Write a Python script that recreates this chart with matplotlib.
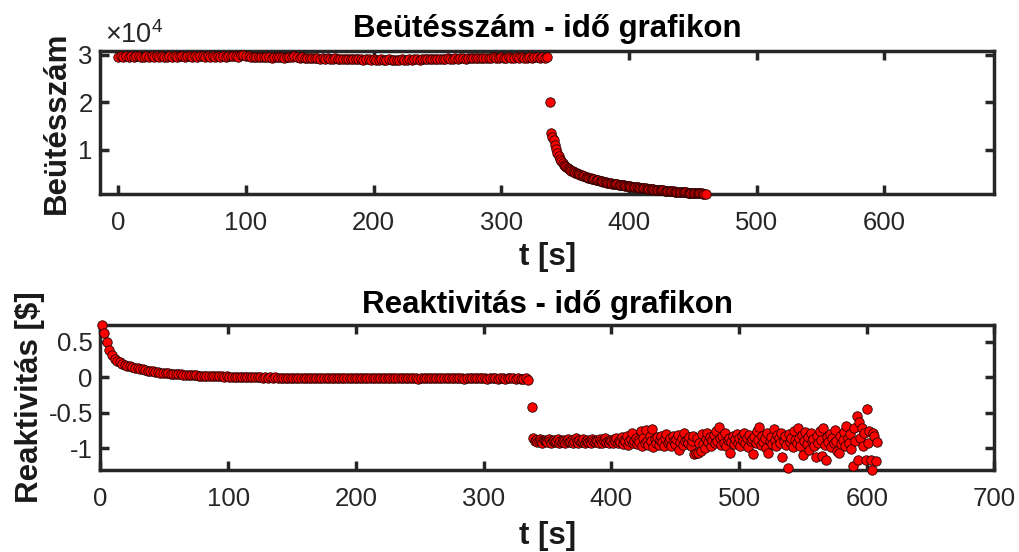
import numpy as np
import matplotlib
matplotlib.use("Agg")
import matplotlib.pyplot as plt
from matplotlib.ticker import FuncFormatter, FixedLocator

plt.rcParams['font.family'] = ['Liberation Sans', 'DejaVu Sans']
plt.rcParams['mathtext.fontset'] = 'custom'
plt.rcParams['mathtext.rm'] = 'Liberation Sans'
plt.rcParams['mathtext.it'] = 'Liberation Sans:italic'
plt.rcParams['mathtext.bf'] = 'Liberation Sans:bold'
plt.rcParams['axes.unicode_minus'] = False

# ---------------- data: counts (Beütésszám) ----------------
t_counts_flat = np.arange(0, 337, 2)          # 0 .. 336 s
counts_flat = [
    29650, 29720, 29580, 29700, 29640, 29760, 29610, 29690, 29730, 29600, 29680, 29750, 29620, 29700, 29660, 29740,
    29590, 29710, 29680, 29620, 29770, 29650, 29700, 29560, 29690, 29740, 29630, 29700, 29810, 29660, 29720, 29600,
    29690, 29750, 29640, 29700, 29620, 29780, 29680, 29730, 29650, 29710, 29600, 29690, 29840, 29720, 29760, 29680,
    29900, 30050, 29820, 29740, 29600, 29680, 29550, 29620, 29480, 29590, 29520, 29650, 29470, 29560, 29610, 29500,
    29580, 29450, 29530, 29620, 29480, 29700, 29550, 29420, 29500, 29380, 29470, 29350, 29430, 29300, 29380, 29260,
    29340, 29220, 29300, 29180, 29260, 29350, 29200, 29120, 29240, 29170, 29090, 29210, 29150, 29060, 29180, 29100,
    29020, 29140, 29080, 28980, 29100, 29030, 28950, 29070, 29000, 28920, 29060, 28980, 29040, 28940, 29020, 29090,
    28960, 29050, 29120, 29000, 29080, 29150, 29030, 29110, 29190, 29060, 29140, 29220, 29100, 29180, 29250, 29130,
    29210, 29290, 29160, 29250, 29330, 29200, 29280, 29360, 29230, 29310, 29400, 29270, 29350, 29420, 29300, 29380,
    29450, 29330, 29410, 29480, 29360, 29440, 29510, 29380, 29460, 29540, 29400, 29470, 29550, 29420, 29490, 29380,
    29460, 29530, 29410, 29480, 29560, 29440, 29500, 29420, 29480,
]
t_counts_jump = [338]
counts_jump = [20000]
t_counts_decay = np.arange(339, 461, 1)       # 339 .. 460 s
counts_decay = [
    13600, 12800, 12100, 11000, 10200, 9300, 8700, 8000, 7600, 7200, 6900, 6600, 6400, 6200, 6000, 5800,
    5650, 5500, 5350, 5200, 5080, 4950, 4850, 4750, 4640, 4550, 4450, 4360, 4280, 4190, 4110, 4030,
    3950, 3880, 3800, 3730, 3660, 3590, 3520, 3460, 3390, 3330, 3270, 3210, 3150, 3090, 3040, 2990,
    2940, 2890, 2840, 2790, 2740, 2700, 2650, 2610, 2570, 2530, 2490, 2450, 2410, 2370, 2330, 2290,
    2260, 2220, 2180, 2150, 2110, 2080, 2040, 2010, 1970, 1940, 1900, 1870, 1840, 1800, 1770, 1740,
    1710, 1680, 1650, 1620, 1590, 1560, 1530, 1500, 1480, 1450, 1420, 1400, 1370, 1350, 1320, 1300,
    1270, 1250, 1230, 1200, 1180, 1160, 1140, 1120, 1100, 1080, 1060, 1040, 1020, 1000, 980, 960,
    940, 925, 905, 890, 870, 855, 840, 820, 790, 745,
]

# ---------------- data: reactivity (Reaktivitás) ----------------
t_react_flat = np.arange(1, 336, 2)           # 1 .. 335 s
react_flat = [
    0.735, 0.62, 0.50, 0.39, 0.31, 0.26, 0.23, 0.21, 0.19, 0.175, 0.165, 0.155, 0.145, 0.135, 0.125, 0.118,
    0.11, 0.10, 0.095, 0.09, 0.083, 0.078, 0.072, 0.066, 0.062, 0.058, 0.055, 0.05, 0.048, 0.045, 0.042, 0.04,
    0.037, 0.035, 0.033, 0.031, 0.03, 0.028, 0.025, 0.024, 0.022, 0.02, 0.018, 0.017, 0.016, 0.014, 0.013, 0.012,
    0.01, 0.012, 0.008, 0.006, 0.009, 0.004, 0.006, 0.003, 0.005, 0.001, 0.004, 0.0, 0.002, -0.002, 0.001, -0.003,
    0.0, -0.004, -0.001, -0.005, -0.002, -0.006, -0.003, -0.008, -0.004, -0.007, -0.01, -0.005, -0.009, -0.006, -0.012, -0.008,
    -0.01, -0.007, -0.013, -0.009, -0.011, -0.006, -0.014, -0.01, -0.008, -0.012, -0.009, -0.015, -0.011, -0.007, -0.013, -0.01,
    -0.012, -0.008, -0.014, -0.011, -0.009, -0.016, -0.012, -0.01, -0.013, -0.008, -0.015, -0.011, -0.009, -0.014, -0.012, -0.017,
    -0.01, -0.013, -0.009, -0.015, -0.011, -0.014, -0.008, -0.012, -0.016, -0.01, -0.013, -0.011, -0.018, -0.012, -0.009, -0.014,
    -0.011, -0.016, -0.012, -0.01, -0.015, -0.013, -0.009, -0.017, -0.012, -0.014, -0.01, -0.016, -0.013, -0.011, -0.018, -0.012,
    -0.015, -0.01, -0.014, -0.017, -0.012, -0.016, -0.011, -0.019, -0.013, -0.015, -0.012, -0.018, -0.014, -0.016, -0.02, -0.013,
    -0.017, -0.015, -0.021, -0.014, -0.018, -0.022, -0.016, -0.035,
]
t_react_jump = [338]
react_jump = [-0.42]
t_react_noisy = np.arange(339, 609, 1)        # 339 .. 608 s
react_noisy = [
    -0.86, -0.90, -0.88, -0.91, -0.89, -0.87, -0.90, -0.92, -0.88, -0.90, -0.89, -0.91, -0.87, -0.90, -0.92, -0.89,
    -0.88, -0.91, -0.90, -0.87, -0.92, -0.89, -0.91, -0.88, -0.90, -0.93, -0.89, -0.87, -0.91, -0.90, -0.88, -0.92,
    -0.89, -0.86, -0.90, -0.92, -0.88, -0.91, -0.89, -0.87, -0.93, -0.90, -0.88, -0.91, -0.89, -0.92, -0.87, -0.90,
    -0.91, -0.88, -0.90, -0.93, -0.87, -0.89, -0.92, -0.90, -0.86, -0.91, -0.89, -0.93, -0.88, -0.90, -0.92, -0.87,
    -0.90, -0.85, -0.93, -0.89, -0.91, -0.84, -0.94, -0.88, -0.90, -0.82, -0.95, -0.89, -0.87, -0.79, -0.92, -0.90,
    -0.86, -0.94, -0.88, -0.91, -0.76, -0.97, -0.85, -0.92, -0.74, -0.89, -0.95, -0.83, -0.90, -0.73, -0.98, -0.87,
    -0.92, -0.84, -0.95, -0.88, -0.82, -0.91, -0.96, -0.86, -0.80, -0.93, -0.89, -0.85, -0.97, -0.83, -0.90, -0.94,
    -0.87, -0.81, -1.02, -0.91, -0.86, -0.95, -0.79, -0.90, -0.88, -0.93, -0.84, -0.97, -0.89, -0.82, -1.08, -1.06,
    -0.85, -1.06, -0.92, -1.03, -0.80, -0.94, -0.99, -0.87, -0.78, -0.91, -0.84, -0.96, -0.88, -0.81, -0.93, -0.75,
    -0.90, -0.70, -0.86, -0.95, -0.83, -0.92, -0.79, -0.97, -0.88, -0.85, -1.07, -0.91, -0.82, -0.94, -0.87, -0.80,
    -0.93, -0.86, -0.96, -0.83, -0.89, -0.78, -0.92, -0.85, -0.98, -0.81, -0.90, -0.87, -1.08, -0.84, -0.93, -0.76,
    -0.88, -0.70, -0.95, -0.82, -0.91, -0.86, -0.99, -0.79, -1.07, -0.90, -0.84, -0.94, -0.73, -0.88, -0.97, -0.81,
    -0.86, -0.92, -0.78, -1.12, -0.89, -0.83, -0.95, -1.27, -0.80, -0.91, -0.86, -0.98, -0.75, -0.88, -0.93, -0.72,
    -0.85, -0.96, -0.81, -1.10, -0.89, -0.77, -0.94, -0.84, -1.02, -0.79, -0.90, -0.87, -0.97, -1.12, -0.83, -0.92,
    -0.76, -0.88, -1.11, -0.71, -0.95, -1.17, -0.84, -0.91, -0.80, -0.98, -0.86, -0.93, -0.74, -0.89, -1.03, -1.06,
    -0.82, -0.94, -0.88, -0.77, -0.97, -0.69, -0.86, -0.92, -0.80, -1.01, -1.25, -0.72, -0.90, -0.54, -1.17, -0.63,
    -0.85, -0.71, -0.96, -0.78, -1.17, -0.44, -0.93, -0.76, -1.17, -1.30, -0.79, -0.82, -1.18, -0.91,
]

titles = ['Beütésszám - idő grafikon', 'Reaktivitás - idő grafikon']
ylabels = ['Beütésszám', 'Reaktivitás [$]']
xlabel = 't [s]'
xticks_top = [0, 100, 200, 300, 400, 500, 600]
xticks_bottom = [0, 100, 200, 300, 400, 500, 600, 700]
yticks_top = [10000, 20000, 30000]
yticks_bottom = [-1, -0.5, 0, 0.5]
y_exponent = 4

t_counts = np.concatenate([t_counts_flat, t_counts_jump, t_counts_decay])
counts = np.concatenate([counts_flat, counts_jump, counts_decay])
t_react = np.concatenate([t_react_flat, t_react_jump, t_react_noisy])
react = np.concatenate([react_flat, react_jump, react_noisy])

AX_COLOR = '#262626'
fig = plt.figure(figsize=(10.2, 5.52), dpi=100)
ax1 = fig.add_axes([0.0985, 0.6486, 0.876, 0.259])
ax2 = fig.add_axes([0.0985, 0.1491, 0.8765, 0.2627])

mk = dict(ls='none', marker='o', ms=6.8, mfc='#ff0000', mec='#220000', mew=0.6,
          clip_on=False, zorder=3)
ax1.plot(t_counts, counts, **mk)
ax2.plot(t_react, react, **mk)

ax1.set_xlim(-14, 686)
ax1.set_ylim(740, 30840)
ax2.set_xlim(0, 700)
ax2.set_ylim(-1.30, 0.74)

ax1.xaxis.set_major_locator(FixedLocator(xticks_top))
ax1.yaxis.set_major_locator(FixedLocator(yticks_top))
ax2.xaxis.set_major_locator(FixedLocator(xticks_bottom))
ax2.yaxis.set_major_locator(FixedLocator(yticks_bottom))

scale = 10 ** y_exponent
ax1.yaxis.set_major_formatter(FuncFormatter(lambda v, p: '%g' % (v / scale)))
ax2.yaxis.set_major_formatter(FuncFormatter(lambda v, p: '%g' % v))
ax1.text(0.005, 1.056, '×' + r'$\mathregular{10^{%d}}$' % y_exponent,
         transform=ax1.transAxes, ha='left', va='baseline', fontsize=19.5,
         color=AX_COLOR)

for ax, title, yl, tpad, ylpad, xlpad in [(ax1, titles[0], ylabels[0], 10, 5, 5),
                                          (ax2, titles[1], ylabels[1], 8.5, 2.5, 7)]:
    for s in ax.spines.values():
        s.set_linewidth(2.5)
        s.set_color(AX_COLOR)
    ax.tick_params(axis='both', which='major', direction='in', top=True, right=True,
                   length=6.5, width=2.5, color=AX_COLOR, labelsize=18.5,
                   labelcolor=AX_COLOR)
    ax.tick_params(axis='x', pad=12.5)
    ax.tick_params(axis='y', pad=5.5)
    ax.set_title(title, fontsize=22.5, fontweight='bold', color='black', pad=tpad)
    ax.set_xlabel(xlabel, fontsize=22.5, fontweight='bold', color='#1a1a1a', labelpad=xlpad)
    ax.set_ylabel(yl, fontsize=22.5, fontweight='bold', color='#1a1a1a', labelpad=ylpad)

fig.savefig('out.png', dpi=100)
